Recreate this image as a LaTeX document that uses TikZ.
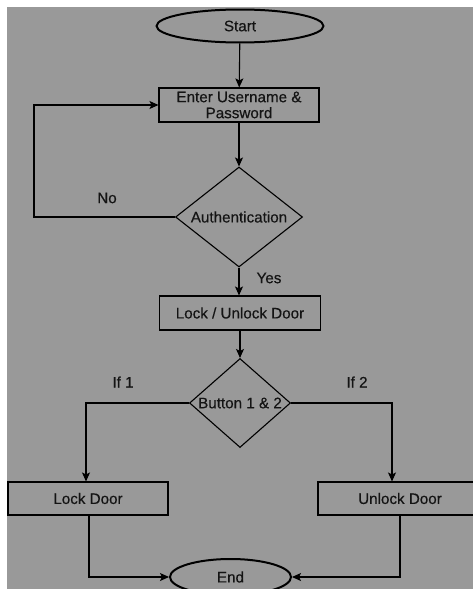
\documentclass[tikz,border=0pt]{standalone}
\usepackage{fontspec}
\setmainfont{Liberation Sans}
\newfontfamily\heavyfont{Liberation Sans}[FakeBold=0.4]
\usetikzlibrary{shapes.geometric,arrows.meta}
\definecolor{bg}{RGB}{153,153,153}
\definecolor{txt}{RGB}{20,20,20}
\begin{document}
\begin{tikzpicture}[x=1pt,y=-1pt,
  every node/.style={font=\heavyfont\fontsize{15.2}{17}\selectfont,text=txt},
  term/.style={ellipse,draw,line width=2pt,inner sep=0pt},
  proc/.style={rectangle,draw,line width=1.1pt,inner sep=0pt,align=center},
  dec/.style={diamond,draw,line width=1.1pt,inner sep=0pt},
  arr/.style={draw,line width=1.1pt,-{Stealth[length=9pt,width=8pt,inset=2pt]}},
  lbl/.style={inner sep=0pt}]
\useasboundingbox (0,0) rectangle (473,589);
\fill[bg] (7,7) rectangle (473,589);
\begin{scope}
\clip (7,7) rectangle (473,589);
\node[term,minimum width=167pt,minimum height=33pt] (start) at (240,26) {Start};
\node[proc,minimum width=160pt,minimum height=34pt] (enter) at (239,105) {Enter Username \&\\[-1pt]Password};
\node[dec,minimum width=127pt,minimum height=100pt] (auth) at (239,217) {};
\node[lbl] (authtxt) at (239,217) {Authentication};
\node[proc,minimum width=161pt,minimum height=34pt] (lu) at (240,313) {Lock / Unlock Door};
\node[dec,minimum width=101pt,minimum height=89pt] (btn) at (240,403) {};
\node[lbl] (btntxt) at (240,403) {Button 1 \& 2};
\node[proc,minimum width=160pt,minimum height=33pt] (lock) at (88,498.5) {Lock Door};
\node[proc,minimum width=164pt,minimum height=33pt] (unlock) at (400,498.5) {Unlock Door};
\node[term,minimum width=121pt,minimum height=36pt] (end) at (230.5,577) {End};

\node[lbl] (no) at (107,198) {No};
\node[lbl] (yes) at (269,278) {Yes};
\node[lbl] (if1) at (123,382) {If 1};
\node[lbl] (if2) at (357,382) {If 2};

\draw[arr] (start) -- (enter);
\draw[arr] (enter) -- (auth);
\draw[arr] (auth.west) -- (34,217) |- (enter.west);
\draw[arr] (auth.south) -- (lu.north -| auth.south);
\draw[arr] (lu) -- (btn);
\draw[arr] (btn.west) -| ([xshift=-2pt]lock.north);
\draw[arr] (btn.east) -| ([xshift=-8pt]unlock.north);
\draw[arr] ([xshift=1pt]lock.south) |- (end.west);
\draw[arr] (unlock.south) |- (end.east);
\end{scope}
\end{tikzpicture}
\end{document}
